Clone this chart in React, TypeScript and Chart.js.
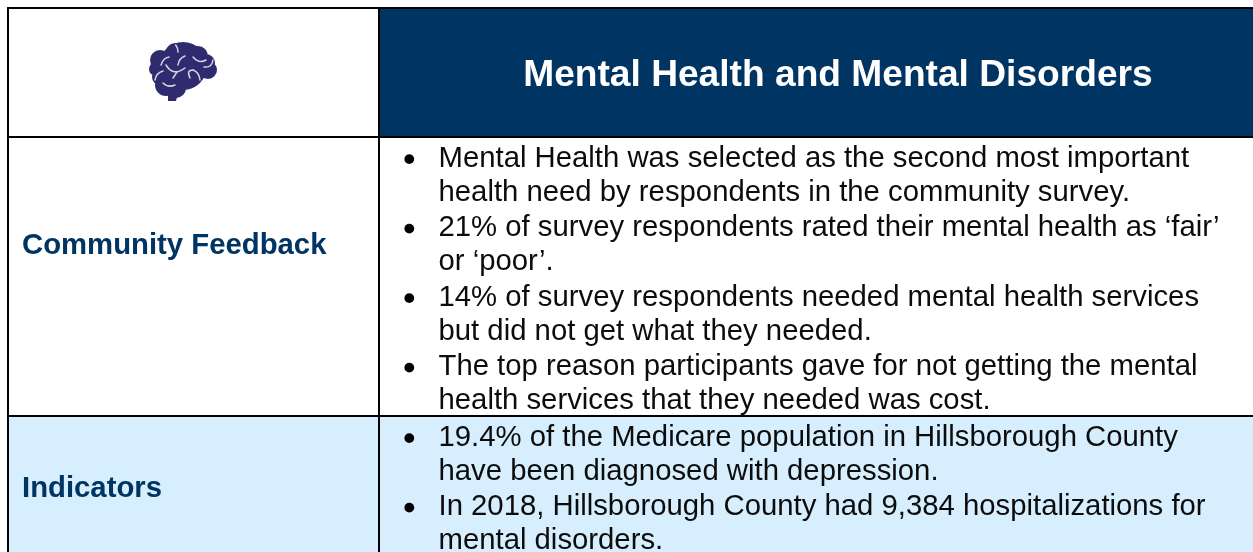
import React, { useEffect, useRef } from "react";
import { Chart, registerables } from "chart.js";

Chart.register(...registerables);

const title = "Mental Health and Mental Disorders";
const rowHeadings = ["Community Feedback", "Indicators"];
const feedbackLines = [
  "•Mental Health was selected as the second most important",
  "health need by respondents in the community survey.",
  "•21% of survey respondents rated their mental health as ‘fair’",
  "or ‘poor’.",
  "•14% of survey respondents needed mental health services",
  "but did not get what they needed.",
  "•The top reason participants gave for not getting the mental",
  "health services that they needed was cost.",
];
const indicatorLines = [
  "•19.4% of the Medicare population in Hillsborough County",
  "have been diagnosed with depression.",
  "•In 2018, Hillsborough County had 9,384 hospitalizations for",
  "mental disorders.",
];

const NAVY = "#003462";
const LIGHT = "#d6eefd";
const W = 1253;
const H = 552;
const PARAGRAPH_STEP = 69.5;
const WRAP_STEP = 33.8;
const FEEDBACK_TOP = 166.7;
const INDICATOR_TOP = 445.7;

const parse = (lines: string[], top: number) =>
  lines.map((l, i) => ({
    text: l.replace("•", ""),
    bullet: l.startsWith("•"),
    base: top + Math.floor(i / 2) * PARAGRAPH_STEP + (i % 2) * WRAP_STEP,
  }));
const allLines = [...parse(feedbackLines, FEEDBACK_TOP), ...parse(indicatorLines, INDICATOR_TOP)];

const brainLobes: number[][] = [
  [183, 66, 24], [176, 54, 11], [187, 53, 10], [198, 56, 10], [206, 63, 9], [208, 70, 9],
  [160, 60, 10], [156, 69, 7], [160, 77, 8], [166, 85, 11], [176, 88, 10], [196, 72, 9],
];
const brainCurves: number[][][] = [
  [[175.7, 45], [178, 48], [178, 52]],
  [[161, 65], [163, 58], [169, 57]],
  [[166, 65], [173, 77], [185, 68]],
  [[178, 65], [179, 58], [185, 56]],
  [[193, 57], [199, 64], [206, 60]],
  [[213, 60], [212, 68], [204, 67]],
  [[155, 80], [156, 73], [163, 71]],
  [[163, 83], [168, 88], [175, 85]],
  [[177, 72], [175, 75], [173, 78]],
  [[190, 78], [186, 70], [193, 70]],
  [[193, 70], [199, 72], [200, 80]],
];

const tablePlugin = {
  id: "tablePlugin",
  beforeDatasetsDraw(chart: any) {
    const { ctx, scales } = chart;
    const X = (v: number) => scales.x.getPixelForValue(v);
    const Y = (v: number) => scales.y.getPixelForValue(v);
    const fill = (x0: number, y0: number, x1: number, y1: number, c: string) => {
      ctx.fillStyle = c;
      ctx.fillRect(X(x0), Y(y0), X(x1) - X(x0), Y(y1) - Y(y0));
    };
    ctx.save();
    fill(0, 0, W, H, "#ffffff");
    fill(380, 9, W, 136, NAVY);
    fill(9, 417, W, H, LIGHT);
    // grid lines
    fill(7, 7, W, 9, "#000000");
    fill(7, 136, W, 138, "#000000");
    fill(7, 415, W, 417, "#000000");
    fill(7, 7, 9, H, "#000000");
    fill(378, 7, 380, H, "#000000");

    // brain icon
    ctx.fillStyle = "#2e2c6e";
    ctx.beginPath();
    brainLobes.forEach(([x, y, r]) => {
      ctx.moveTo(X(x + r), Y(y));
      ctx.arc(X(x), Y(y), r, 0, Math.PI * 2);
    });
    ctx.fill();
    ctx.beginPath();
    ctx.moveTo(X(168), Y(101));
    ctx.lineTo(X(176), Y(101));
    ctx.quadraticCurveTo(X(177), Y(94), X(186), Y(90));
    ctx.lineTo(X(168), Y(88));
    ctx.closePath();
    ctx.fill();
    ctx.strokeStyle = "#d4d4e4";
    ctx.lineWidth = 1.5;
    ctx.lineCap = "round";
    brainCurves.forEach(([a, b, c]) => {
      ctx.beginPath();
      ctx.moveTo(X(a[0]), Y(a[1]));
      ctx.quadraticCurveTo(X(b[0]), Y(b[1]), X(c[0]), Y(c[1]));
      ctx.stroke();
    });

    // text
    ctx.textBaseline = "alphabetic";
    ctx.textAlign = "left";
    ctx.fillStyle = "#ffffff";
    ctx.font = 'bold 37.15px "Liberation Sans"';
    ctx.fillText(title, X(523.2), Y(85.5));
    ctx.fillStyle = NAVY;
    ctx.font = 'bold 29.3px "Liberation Sans"';
    ctx.fillText(rowHeadings[0], X(22), Y(253.5));
    ctx.fillText(rowHeadings[1], X(22), Y(497));
    ctx.fillStyle = "#0c0c0c";
    ctx.font = '29.3px "Liberation Sans"';
    allLines.forEach((l) => ctx.fillText(l.text, X(438.5), Y(l.base)));
    ctx.restore();
  },
};

export default function App() {
  const ref = useRef<HTMLCanvasElement>(null);
  useEffect(() => {
    const chart = new Chart(ref.current!, {
      type: "scatter",
      data: {
        datasets: [
          {
            label: "bullets",
            data: allLines.filter((l) => l.bullet).map((l) => ({ x: 409.3, y: l.base - 7.6 })),
            pointRadius: 4.9,
            pointBackgroundColor: "#000000",
            pointBorderWidth: 0,
          },
        ],
      },
      options: {
        animation: false,
        responsive: false,
        layout: { padding: 0, autoPadding: false },
        plugins: { legend: { display: false }, tooltip: { enabled: false } },
        scales: {
          x: { type: "linear", min: 0, max: W, display: false },
          y: { type: "linear", min: 0, max: H, reverse: true, display: false },
        },
      },
      plugins: [tablePlugin],
    });
    return () => chart.destroy();
  }, []);
  return (
    <canvas
      ref={ref}
      width={W}
      height={H}
      style={{ position: "fixed", left: 0, top: 0, width: W, height: H, display: "block" }}
    />
  );
}
